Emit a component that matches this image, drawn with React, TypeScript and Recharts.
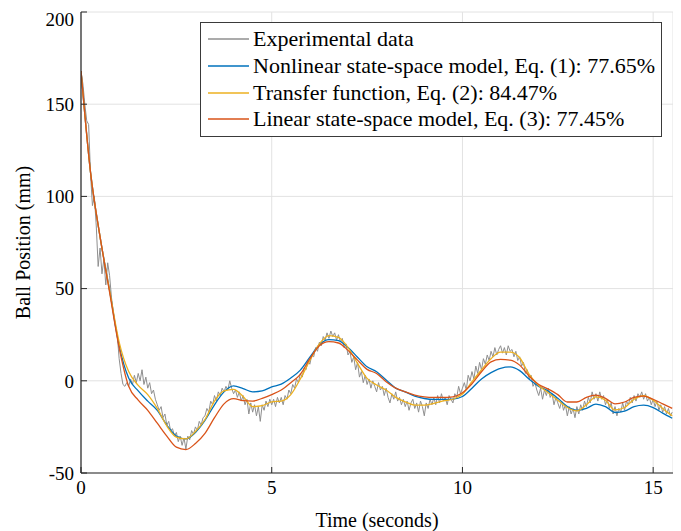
import React from 'react';
import { LineChart, Line, XAxis, YAxis, CartesianGrid } from 'recharts';

// ---- data ----
const modelTime = [
  0, 0.25, 0.5, 0.75, 1, 1.25, 1.5, 1.75, 2, 2.25, 2.5, 2.75, 3, 3.25, 3.5, 3.75,
  4, 4.25, 4.5, 4.75, 5, 5.25, 5.5, 5.75, 6, 6.25, 6.5, 6.75, 7, 7.25, 7.5, 7.75,
  8, 8.25, 8.5, 8.75, 9, 9.25, 9.5, 9.75, 10, 10.25, 10.5, 10.75, 11, 11.25, 11.5, 11.75,
  12, 12.25, 12.5, 12.75, 13, 13.25, 13.5, 13.75, 14, 14.25, 14.5, 14.75, 15, 15.25, 15.5,
];

const nonlinearSS = [
  168, 113, 78, 49, 19, 1.5, -5.5, -11, -16, -24, -30, -31.5, -28, -21.5, -13, -6,
  -2.8, -4.2, -6, -5.5, -3.3, -1.8, 1.5, 5.8, 12.8, 19.5, 22.3, 21.8, 18, 12.8, 7.6, 4.9,
  0.4, -4, -6, -8.3, -9.6, -10.1, -10.1, -9.9, -8.5, -4, 1, 4.4, 6.8, 7.5, 5.5, 0.8,
  -3, -5.6, -9.5, -14, -16, -15, -12.6, -14, -17.2, -16.5, -14, -13.2, -14.5, -17.5, -20.3,
];

const transferFn = [
  168, 113, 78, 49, 21, 5, -2.5, -7.5, -15, -24.5, -30.5, -31.5, -27.5, -21, -11, -5.5,
  -4.6, -8.5, -14, -13.5, -11.4, -11, -7.5, 1, 11, 20, 24.5, 23.5, 18, 9.4, 1.3, -2.3,
  -5, -9, -11.4, -13.2, -13.2, -12.3, -10.9, -10, -7.2, -0.5, 6, 12, 15.5, 15.5, 12.5, 3.5,
  -2.5, -6.5, -10.5, -14.5, -16.3, -13, -8.7, -10.5, -15.8, -14.5, -10, -8.1, -10.5, -15, -19,
];

const linearSS = [
  168, 113, 78, 48, 18, -3, -10.5, -16, -23, -30, -36, -37.3, -34, -28.5, -20, -12.5,
  -9.7, -10.8, -11, -9.5, -7.5, -5, -1, 3.5, 12, 19, 21.2, 20.5, 16.5, 11.2, 6.2, 4,
  -0.5, -4, -6, -7.8, -8.7, -9, -9, -8.7, -6.5, -1.6, 4.9, 10.3, 11.6, 11.2, 8.5, 2.5,
  -2, -4.5, -7.5, -11.5, -11.5, -9, -7.8, -9.5, -12.5, -11.5, -9, -8.3, -10, -12.5, -15,
];

// experimental samples every 0.05 s
const experimental = [
  168, 161, 150, 141, 139, 112, 95, 100, 84, 62, 72, 58, 66, 52, 64, 57, 45, 37, 30, 25,
  12, 4, -2, -3, -1, -3, 1, -2, 3, -1, 4, 0, 6, -2, 2, -4, -1, -7, -5, -10,
  -13, -16, -14, -20, -18, -24, -22, -27, -26, -30, -28, -33, -30, -35, -31, -37, -30, -32, -27, -29,
  -25, -27, -22, -24, -20, -19, -15, -17, -11, -13, -8, -11, -6, -8, -4, -6, -3, -5, 0, -4,
  -7, -5, -9, -6, -11, -8, -13, -10, -18, -12, -17, -13, -19, -14, -22, -13, -16, -11, -14, -10,
  -13, -10, -14, -9, -12, -9, -13, -8, -10, -5, -7, -2, -4, 1, -1, 4, 2, 7, 6, 11,
  9, 14, 13, 18, 16, 21, 19, 24, 22, 26, 23, 27, 24, 26, 22, 25, 21, 23, 18, 20,
  14, 16, 10, 13, 6, 10, 2, 5, -1, 3, -2, 1, -4, 0, -3, -6, -1, -5, -3, -8,
  -4, -9, -12, -7, -10, -6, -11, -9, -13, -10, -14, -11, -16, -12, -10, -15, -12, -17, -11, -14,
  -19, -12, -15, -10, -13, -9, -13, -8, -12, -7, -11, -9, -13, -8, -10, -12, -7, -9, -3, -7,
  -4, -1, -5, 3, 0, 5, 1, 8, 4, 10, 6, 12, 9, 14, 11, 16, 13, 18, 14, 17,
  19, 15, 18, 14, 19, 16, 17, 13, 16, 11, 13, 8, 10, 4, 6, 1, 3, -3, -1, -5,
  -8, -4, -10, -5, -8, -4, -9, -7, -13, -9, -12, -15, -11, -16, -13, -19, -14, -18, -15, -20,
  -14, -18, -13, -16, -11, -14, -9, -12, -6, -10, -7, -11, -6, -10, -8, -13, -10, -15, -12, -18,
  -14, -19, -15, -17, -12, -16, -11, -13, -9, -12, -8, -11, -7, -9, -6, -10, -7, -11, -9, -13,
  -10, -14, -11, -16, -13, -17, -14, -18, -15, -19, -17,
];
const expStep = 0.05;

const xTicks = [0, 5, 10, 15];
const yTicks = [-50, 0, 50, 100, 150, 200];
const xDomain = [0, 15.52];
const yDomain = [-50, 200];

const seriesNames = [
  'Experimental data',
  'Nonlinear state-space model, Eq. (1): 77.65%',
  'Transfer function, Eq. (2): 84.47%',
  'Linear state-space model, Eq. (3): 77.45%',
];
const seriesColors = ['#8f8f8f', '#0072BD', '#EDB120', '#D95319'];

const xLabel = 'Time (seconds)';
const yLabel = 'Ball Position (mm)';

// ---- derived tables ----
const expData = experimental.map((v, i) => ({ t: Math.round(i * expStep * 100) / 100, v }));
const nlData = modelTime.map((t, i) => ({ t, v: nonlinearSS[i] }));
const tfData = modelTime.map((t, i) => ({ t, v: transferFn[i] }));
const linData = modelTime.map((t, i) => ({ t, v: linearSS[i] }));

const FONT = 'Liberation Serif, serif';
const AX = '#262626';

const noTick = () => <g />;

export default function App() {
  return (
    <div style={{ position: 'relative', width: 670, height: 523 }}>
      <LineChart width={670} height={523} margin={{ top: 4, right: 5, bottom: 0, left: 0 }}>
        <CartesianGrid xAxisId="b" yAxisId="l" stroke="#e2e2e2" strokeWidth={1} />
        <XAxis
          xAxisId="b"
          dataKey="t"
          type="number"
          domain={xDomain}
          ticks={xTicks}
          allowDataOverflow
          height={58}
          tickSize={-6}
          tickMargin={14}
          axisLine={{ stroke: AX, strokeWidth: 1.2 }}
          tickLine={{ stroke: AX, strokeWidth: 1 }}
          tick={{ fill: '#000', fontSize: 19, fontFamily: FONT }}
          label={{
            content: (p: any) => {
              const vb = p.viewBox;
              return (
                <text
                  x={vb.x + vb.width / 2}
                  y={vb.y + 47}
                  textAnchor="middle"
                  dominantBaseline="central"
                  fontFamily={FONT}
                  fontSize={20}
                  fill="#000"
                >
                  {xLabel}
                </text>
              );
            },
          }}
        />
        <XAxis
          xAxisId="t"
          orientation="top"
          type="number"
          domain={xDomain}
          ticks={xTicks}
          allowDataOverflow
          height={0}
          tickSize={-6}
          axisLine={{ stroke: AX, strokeWidth: 1.2 }}
          tickLine={{ stroke: AX, strokeWidth: 1 }}
          tick={noTick}
        />
        <YAxis
          yAxisId="l"
          type="number"
          domain={yDomain}
          ticks={yTicks}
          allowDataOverflow
          width={73}
          tickSize={-6}
          tickMargin={13}
          axisLine={{ stroke: AX, strokeWidth: 1.2 }}
          tickLine={{ stroke: AX, strokeWidth: 1 }}
          tick={{ fill: '#000', fontSize: 19, fontFamily: FONT }}
          label={{
            content: (p: any) => {
              const vb = p.viewBox;
              const cx = vb.x + 15;
              const cy = vb.y + vb.height / 2;
              return (
                <text
                  x={cx}
                  y={cy}
                  transform={`rotate(-90, ${cx}, ${cy})`}
                  textAnchor="middle"
                  dominantBaseline="central"
                  fontFamily={FONT}
                  fontSize={20}
                  fill="#000"
                >
                  {yLabel}
                </text>
              );
            },
          }}
        />
        <YAxis
          yAxisId="r"
          orientation="right"
          type="number"
          domain={yDomain}
          ticks={yTicks}
          allowDataOverflow
          width={0}
          tickSize={-6}
          axisLine={{ stroke: AX, strokeWidth: 1.2 }}
          tickLine={{ stroke: AX, strokeWidth: 1 }}
          tick={noTick}
        />
        <Line
          xAxisId="b"
          yAxisId="l"
          data={expData}
          dataKey="v"
          name={seriesNames[0]}
          type="linear"
          stroke={seriesColors[0]}
          strokeWidth={1}
          dot={false}
          isAnimationActive={false}
        />
        <Line
          xAxisId="b"
          yAxisId="l"
          data={nlData}
          dataKey="v"
          name={seriesNames[1]}
          type="monotone"
          stroke={seriesColors[1]}
          strokeWidth={1.3}
          dot={false}
          isAnimationActive={false}
        />
        <Line
          xAxisId="b"
          yAxisId="l"
          data={tfData}
          dataKey="v"
          name={seriesNames[2]}
          type="monotone"
          stroke={seriesColors[2]}
          strokeWidth={1.3}
          dot={false}
          isAnimationActive={false}
        />
        <Line
          xAxisId="b"
          yAxisId="l"
          data={linData}
          dataKey="v"
          name={seriesNames[3]}
          type="monotone"
          stroke={seriesColors[3]}
          strokeWidth={1.3}
          dot={false}
          isAnimationActive={false}
        />
      </LineChart>
      <div
        style={{
          position: 'absolute',
          left: 192,
          top: 14,
          width: 460,
          height: 110,
          border: '1px solid #3a3a3a',
          background: '#fff',
          boxSizing: 'content-box',
          paddingTop: 3,
        }}
      >
        {seriesNames.map((name, i) => (
          <div
            key={name}
            style={{ display: 'flex', alignItems: 'center', height: 26.7, whiteSpace: 'nowrap' }}
          >
            <svg width={52} height={10} style={{ flex: 'none' }}>
              <line x1={7} x2={48} y1={5} y2={5} stroke={seriesColors[i]} strokeWidth={1.3} />
            </svg>
            <span style={{ fontFamily: FONT, fontSize: 22, color: '#000', lineHeight: '26px' }}>{name}</span>
          </div>
        ))}
      </div>
    </div>
  );
}
